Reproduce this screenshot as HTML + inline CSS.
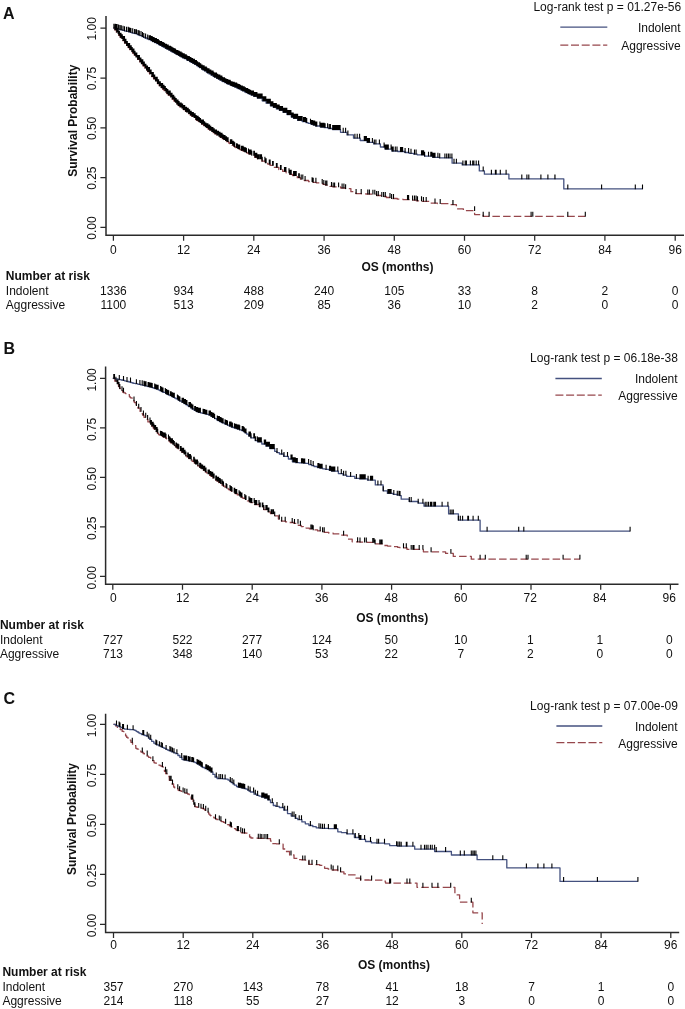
<!DOCTYPE html>
<html lang="en">
<head>
<meta charset="utf-8">
<title>Kaplan-Meier survival curves</title>
<style>
html,body{margin:0;padding:0;background:#fff;}
body{width:685px;height:1009px;overflow:hidden;}
svg{display:block;}
svg text{font-family:"Liberation Sans",sans-serif;font-size:12px;fill:#111;}
</style>
</head>
<body>
<svg width="685" height="1009" viewBox="0 0 685 1009">
<rect width="685" height="1009" fill="#fff"/>
<g>
<text x="3.0" y="18.9" font-weight="bold" style="font-size:16px">A</text>
<text x="681.2" y="11.3" text-anchor="end">Log-rank test p = 01.27e-56</text>
<line x1="560.3" y1="27.2" x2="607.3" y2="27.2" stroke="#44517f" stroke-width="1.3"/>
<line x1="560.3" y1="45.1" x2="607.3" y2="45.1" stroke="#96474c" stroke-width="1.3" stroke-dasharray="8 2.7"/>
<text x="680.6" y="32.3" text-anchor="end">Indolent</text>
<text x="680.6" y="49.6" text-anchor="end">Aggressive</text>
<path d="M106.0,16.0V235.3H684.0" fill="none" stroke="#2a2a2a" stroke-width="1.5"/>
<path d="M106.0,227.4h-5.6M106.0,177.6h-5.6M106.0,127.8h-5.6M106.0,78.0h-5.6M106.0,28.2h-5.6M113.4,235.3v5.4M183.6,235.3v5.4M253.8,235.3v5.4M324.1,235.3v5.4M394.3,235.3v5.4M464.5,235.3v5.4M534.7,235.3v5.4M604.9,235.3v5.4M675.2,235.3v5.4" fill="none" stroke="#2a2a2a" stroke-width="1.25"/>
<text transform="translate(96.0,228.0) rotate(-90)" text-anchor="middle">0.00</text>
<text transform="translate(96.0,178.2) rotate(-90)" text-anchor="middle">0.25</text>
<text transform="translate(96.0,128.4) rotate(-90)" text-anchor="middle">0.50</text>
<text transform="translate(96.0,78.6) rotate(-90)" text-anchor="middle">0.75</text>
<text transform="translate(96.0,28.8) rotate(-90)" text-anchor="middle">1.00</text>
<text x="113.4" y="253.6" text-anchor="middle">0</text>
<text x="183.6" y="253.6" text-anchor="middle">12</text>
<text x="253.8" y="253.6" text-anchor="middle">24</text>
<text x="324.1" y="253.6" text-anchor="middle">36</text>
<text x="394.3" y="253.6" text-anchor="middle">48</text>
<text x="464.5" y="253.6" text-anchor="middle">60</text>
<text x="534.7" y="253.6" text-anchor="middle">72</text>
<text x="604.9" y="253.6" text-anchor="middle">84</text>
<text x="675.2" y="253.6" text-anchor="middle">96</text>
<text transform="translate(76.9,120.7) rotate(-90)" text-anchor="middle" font-weight="bold">Survival Probability</text>
<text x="397.4" y="271.0" text-anchor="middle" font-weight="bold">OS (months)</text>
<text x="5.8" y="280.2" font-weight="bold">Number at risk</text>
<text x="5.8" y="295.0">Indolent</text>
<text x="5.8" y="308.8">Aggressive</text>
<text x="113.4" y="295.0" text-anchor="middle">1336</text>
<text x="113.4" y="308.8" text-anchor="middle">1100</text>
<text x="183.6" y="295.0" text-anchor="middle">934</text>
<text x="183.6" y="308.8" text-anchor="middle">513</text>
<text x="253.8" y="295.0" text-anchor="middle">488</text>
<text x="253.8" y="308.8" text-anchor="middle">209</text>
<text x="324.1" y="295.0" text-anchor="middle">240</text>
<text x="324.1" y="308.8" text-anchor="middle">85</text>
<text x="394.3" y="295.0" text-anchor="middle">105</text>
<text x="394.3" y="308.8" text-anchor="middle">36</text>
<text x="464.5" y="295.0" text-anchor="middle">33</text>
<text x="464.5" y="308.8" text-anchor="middle">10</text>
<text x="534.7" y="295.0" text-anchor="middle">8</text>
<text x="534.7" y="308.8" text-anchor="middle">2</text>
<text x="604.9" y="295.0" text-anchor="middle">2</text>
<text x="604.9" y="308.8" text-anchor="middle">0</text>
<text x="675.2" y="295.0" text-anchor="middle">0</text>
<text x="675.2" y="308.8" text-anchor="middle">0</text>
<path d="M113.4,28.2 L114.6,28.2 L114.6,29.8 L116.4,29.8 L116.4,32.2 L117.5,32.2 L117.5,33.7 L118.7,33.7 L118.7,35.3 L120.2,35.3 L120.2,37.3 L121.2,37.3 L121.2,38.7 L122.6,38.7 L122.6,40.6 L124.6,40.6 L124.6,43.2 L126.5,43.2 L126.5,45.5 L128.1,45.5 L128.1,47.5 L129.8,47.5 L129.8,49.7 L131.4,49.7 L131.4,51.6 L132.5,51.6 L132.5,53.1 L134.3,53.1 L134.3,55.2 L135.7,55.2 L135.7,57.0 L137.6,57.0 L137.6,59.4 L139.8,59.4 L139.8,61.9 L141.3,61.9 L141.3,63.8 L143.0,63.8 L143.0,65.9 L144.9,65.9 L144.9,68.2 L146.4,68.2 L146.4,70.0 L147.6,70.0 L147.6,71.6 L149.5,71.6 L149.5,73.9 L151.6,73.9 L151.6,76.5 L153.6,76.5 L153.6,78.9 L155.4,78.9 L155.4,81.2 L157.5,81.2 L157.5,83.7 L159.3,83.7 L159.3,85.8 L161.1,85.8 L161.1,87.6 L162.6,87.6 L162.6,89.2 L164.0,89.2 L164.0,90.6 L165.7,90.6 L165.7,92.4 L166.8,92.4 L166.8,93.5 L168.3,93.5 L168.3,95.1 L170.3,95.1 L170.3,97.2 L172.2,97.2 L172.2,99.2 L173.9,99.2 L173.9,101.1 L175.2,101.1 L175.2,102.4 L176.7,102.4 L176.7,104.0 L178.3,104.0 L178.3,105.5 L180.0,105.5 L180.0,106.9 L181.5,106.9 L181.5,108.1 L183.3,108.1 L183.3,109.6 L185.5,109.6 L185.5,111.3 L186.7,111.3 L186.7,112.2 L188.5,112.2 L188.5,113.7 L190.4,113.7 L190.4,115.2 L191.9,115.2 L191.9,116.4 L193.5,116.4 L193.5,117.7 L195.7,117.7 L195.7,119.5 L196.7,119.5 L196.7,120.3 L198.3,120.3 L198.3,121.6 L199.5,121.6 L199.5,122.6 L201.5,122.6 L201.5,124.1 L203.6,124.1 L203.6,125.7 L205.2,125.7 L205.2,126.9 L206.3,126.9 L206.3,127.7 L208.0,127.7 L208.0,129.0 L209.7,129.0 L209.7,130.2 L211.6,130.2 L211.6,131.6 L213.2,131.6 L213.2,132.7 L215.0,132.7 L215.0,133.9 L217.0,133.9 L217.0,135.2 L218.6,135.2 L218.6,136.3 L220.1,136.3 L220.1,137.3 L222.3,137.3 L222.3,138.7 L223.5,138.7 L223.5,139.5 L225.3,139.5 L225.3,140.7 L226.8,140.7 L226.8,141.7 L228.7,141.7 L228.7,143.0 L229.8,143.0 L229.8,143.7 L232.1,143.7 L232.1,145.2 L233.5,145.2 L233.5,146.1 L234.5,146.1 L234.5,146.8 L235.8,146.8 L235.8,147.7 L237.3,147.7 L237.3,148.4 L238.3,148.4 L238.3,148.9 L239.8,148.9 L239.8,149.6 L241.3,149.6 L241.3,150.3 L243.1,150.3 L243.1,151.2 L244.5,151.2 L244.5,151.8 L245.8,151.8 L245.8,152.5 L247.1,152.5 L247.1,153.1 L249.0,153.1 L249.0,154.1 L251.2,154.1 L251.2,155.3 L254.7,155.3 L254.7,157.3 L257.4,157.3 L257.4,158.8 L261.8,158.8 L261.8,161.2 L265.0,161.2 L265.0,162.8 L267.7,162.8 L267.7,164.1 L270.1,164.1 L270.1,165.4 L274.4,165.4 L274.4,167.4 L278.8,167.4 L278.8,169.6 L282.7,169.6 L282.7,171.4 L286.1,171.4 L286.1,172.8 L289.7,172.8 L289.7,174.3 L292.5,174.3 L292.5,175.5 L297.3,175.5 L297.3,177.7 L300.4,177.7 L300.4,179.1 L304.3,179.1 L304.3,180.5 L308.6,180.5 L308.6,181.7 L313.0,181.7 L313.0,182.3 L316.4,182.3 L316.4,182.9 L319.4,182.9 L319.4,183.4 L323.0,183.4 L323.0,184.4 L325.4,184.4 L325.4,185.1 L329.9,185.1 L329.9,186.4 L333.0,186.4 L333.0,186.9 L340.7,186.9 L340.7,188.0 L345.5,188.0 L345.5,188.7 L350.9,188.7 L350.9,191.7 L355.8,191.7 L355.8,193.6 L361.4,193.6 L361.4,193.8 L365.9,193.8 L365.9,194.0 L369.5,194.0 L369.5,194.2 L376.6,194.2 L376.6,195.5 L381.5,195.5 L381.5,196.5 L386.3,196.5 L386.3,197.5 L391.4,197.5 L391.4,198.5 L397.3,198.5 L397.3,199.2 L402.9,199.2 L402.9,199.6 L409.6,199.6 L409.6,200.1 L416.3,200.1 L416.3,200.8 L421.7,200.8 L421.7,201.4 L429.7,201.4 L429.7,203.1 L437.4,203.1 L437.4,203.5 L440.0,203.5 L440.0,203.6 L450.0,203.6 L450.0,204.6 L456.4,204.6 L456.4,208.8 L463.4,208.8 L463.4,210.7 L474.6,210.7 L474.6,214.6 L483.2,214.6 L483.2,216.3 L585.0,216.3" fill="none" stroke="#96474c" stroke-width="1.3" stroke-dasharray="7.5 3.2" stroke-linejoin="round"/>
<path d="M113.4,28.2 L115.4,28.2 L115.4,28.6 L117.5,28.6 L117.5,29.1 L119.5,29.1 L119.5,29.5 L120.6,29.5 L120.6,29.8 L122.7,29.8 L122.7,30.3 L124.4,30.3 L124.4,30.8 L125.4,30.8 L125.4,31.1 L126.4,31.1 L126.4,31.3 L128.6,31.3 L128.6,31.9 L130.4,31.9 L130.4,32.4 L131.6,32.4 L131.6,32.8 L132.7,32.8 L132.7,33.1 L133.9,33.1 L133.9,33.4 L135.1,33.4 L135.1,33.7 L137.1,33.7 L137.1,34.5 L138.5,34.5 L138.5,35.1 L139.7,35.1 L139.7,35.6 L141.8,35.6 L141.8,36.6 L143.7,36.6 L143.7,37.4 L144.9,37.4 L144.9,38.0 L147.0,38.0 L147.0,38.9 L148.8,38.9 L148.8,39.7 L150.7,39.7 L150.7,40.6 L152.5,40.6 L152.5,41.5 L154.6,41.5 L154.6,42.6 L156.6,42.6 L156.6,43.6 L158.6,43.6 L158.6,44.7 L159.9,44.7 L159.9,45.4 L161.7,45.4 L161.7,46.4 L163.3,46.4 L163.3,47.2 L165.2,47.2 L165.2,48.3 L166.8,48.3 L166.8,49.1 L168.9,49.1 L168.9,50.2 L170.5,50.2 L170.5,51.1 L171.8,51.1 L171.8,51.8 L173.1,51.8 L173.1,52.4 L174.2,52.4 L174.2,53.1 L175.8,53.1 L175.8,53.9 L176.9,53.9 L176.9,54.5 L178.4,54.5 L178.4,55.3 L179.6,55.3 L179.6,56.0 L181.1,56.0 L181.1,56.9 L182.7,56.9 L182.7,57.8 L184.4,57.8 L184.4,58.7 L186.5,58.7 L186.5,59.8 L187.4,59.8 L187.4,60.4 L189.5,60.4 L189.5,61.5 L191.0,61.5 L191.0,62.4 L192.7,62.4 L192.7,63.3 L194.5,63.3 L194.5,64.4 L196.5,64.4 L196.5,65.7 L198.0,65.7 L198.0,66.7 L199.5,66.7 L199.5,67.7 L201.7,67.7 L201.7,69.1 L202.7,69.1 L202.7,69.8 L204.5,69.8 L204.5,70.9 L206.3,70.9 L206.3,72.1 L207.3,72.1 L207.3,72.8 L209.0,72.8 L209.0,73.9 L210.9,73.9 L210.9,75.1 L213.0,75.1 L213.0,76.3 L214.4,76.3 L214.4,77.1 L216.6,77.1 L216.6,78.3 L218.2,78.3 L218.2,79.1 L219.8,79.1 L219.8,80.0 L221.9,80.0 L221.9,81.2 L222.9,81.2 L222.9,81.7 L224.8,81.7 L224.8,82.7 L226.5,82.7 L226.5,83.6 L227.9,83.6 L227.9,84.2 L230.0,84.2 L230.0,85.1 L231.4,85.1 L231.4,85.7 L233.0,85.7 L233.0,86.3 L234.6,86.3 L234.6,87.0 L236.6,87.0 L236.6,87.9 L237.8,87.9 L237.8,88.5 L239.3,88.5 L239.3,89.2 L240.8,89.2 L240.8,90.0 L242.5,90.0 L242.5,90.8 L244.5,90.8 L244.5,91.8 L245.8,91.8 L245.8,92.5 L247.9,92.5 L247.9,93.5 L249.3,93.5 L249.3,94.2 L251.0,94.2 L251.0,95.0 L253.8,95.0 L253.8,96.4 L257.3,96.4 L257.3,98.1 L262.2,98.1 L262.2,100.8 L266.1,100.8 L266.1,103.2 L270.4,103.2 L270.4,105.8 L273.4,105.8 L273.4,107.4 L276.4,107.4 L276.4,108.9 L279.4,108.9 L279.4,110.4 L283.1,110.4 L283.1,112.3 L287.0,112.3 L287.0,114.5 L291.3,114.5 L291.3,117.0 L293.5,117.0 L293.5,118.3 L297.6,118.3 L297.6,120.4 L302.2,120.4 L302.2,121.6 L305.8,121.6 L305.8,122.6 L308.1,122.6 L308.1,123.3 L311.0,123.3 L311.0,124.4 L313.1,124.4 L313.1,125.1 L315.7,125.1 L315.7,126.0 L320.4,126.0 L320.4,127.2 L324.2,127.2 L324.2,127.7 L328.2,127.7 L328.2,128.5 L332.5,128.5 L332.5,129.6 L340.5,129.6 L340.5,132.3 L347.0,132.3 L347.0,134.9 L353.5,134.9 L353.5,138.2 L360.2,138.2 L360.2,140.5 L367.1,140.5 L367.1,142.4 L373.6,142.4 L373.6,143.9 L380.4,143.9 L380.4,147.0 L385.1,147.0 L385.1,149.1 L391.9,149.1 L391.9,151.0 L397.7,151.0 L397.7,151.5 L404.9,151.5 L404.9,152.5 L409.0,152.5 L409.0,153.3 L413.5,153.3 L413.5,154.1 L417.2,154.1 L417.2,154.8 L424.6,154.8 L424.6,156.2 L432.6,156.2 L432.6,157.3 L439.3,157.3 L439.3,157.8 L440.2,157.8 L440.2,157.9 L452.1,157.9 L452.1,163.2 L462.2,163.2 L462.2,164.9 L479.3,164.9 L479.3,170.9 L484.4,170.9 L484.4,174.2 L508.9,174.2 L508.9,178.9 L563.8,178.9 L563.8,188.9 L642.5,188.9" fill="none" stroke="#44517f" stroke-width="1.3" stroke-linejoin="round"/>
<path d="M115.0,30.2v-4.9M115.6,30.2v-4.9M116.2,30.2v-4.9M116.7,32.6v-4.9M117.3,32.6v-4.9M118.2,34.1v-4.9M119.0,35.7v-4.9M119.4,35.7v-4.9M120.3,37.7v-4.9M121.0,37.7v-4.9M121.9,39.1v-4.9M122.3,39.1v-4.9M123.0,41.0v-4.9M123.5,41.0v-4.9M124.5,41.0v-4.9M124.7,43.6v-4.9M125.5,43.6v-4.9M125.9,43.6v-4.9M126.6,45.9v-4.9M127.3,45.9v-4.9M128.4,47.9v-4.9M128.8,47.9v-4.9M129.6,47.9v-4.9M130.0,50.1v-4.9M130.8,50.1v-4.9M131.2,50.1v-4.9M131.8,52.0v-4.9M132.2,52.0v-4.9M133.1,53.5v-4.9M133.9,53.5v-4.9M134.5,55.6v-4.9M135.0,55.6v-4.9M136.0,57.4v-4.9M136.8,57.4v-4.9M137.7,59.8v-4.9M138.3,59.8v-4.9M138.8,59.8v-4.9M139.4,59.8v-4.9M140.0,62.3v-4.9M140.6,62.3v-4.9M140.9,62.3v-4.9M141.4,64.2v-4.9M142.4,64.2v-4.9M142.8,64.2v-4.9M143.3,66.3v-4.9M143.8,66.3v-4.9M144.3,66.3v-4.9M145.3,68.6v-4.9M145.9,68.6v-4.9M146.6,70.4v-4.9M147.0,70.4v-4.9M147.5,70.4v-4.9M147.9,72.0v-4.9M148.5,72.0v-4.9M149.5,72.0v-4.9M150.0,74.3v-4.9M150.6,74.3v-4.9M151.1,74.3v-4.9M151.9,76.9v-4.9M152.2,76.9v-4.9M153.0,76.9v-4.9M153.3,76.9v-4.9M153.9,79.3v-4.9M154.7,79.3v-4.9M155.5,81.6v-4.9M155.6,81.6v-4.9M156.7,81.6v-4.9M157.2,81.6v-4.9M157.5,84.1v-4.9M158.6,84.1v-4.9M159.4,86.2v-4.9M159.7,86.2v-4.9M160.3,86.2v-4.9M161.2,88.0v-4.9M161.8,88.0v-4.9M162.6,88.0v-4.9M163.1,89.6v-4.9M164.0,89.6v-4.9M165.0,91.0v-4.9M165.3,91.0v-4.9M166.0,92.8v-4.9M166.6,92.8v-4.9M167.2,93.9v-4.9M167.8,93.9v-4.9M168.4,95.5v-4.9M168.7,95.5v-4.9M169.5,95.5v-4.9M170.2,95.5v-4.9M170.7,97.6v-4.9M171.4,97.6v-4.9M172.0,97.6v-4.9M172.4,99.6v-4.9M173.1,99.6v-4.9M173.7,99.6v-4.9M174.5,101.5v-4.9M174.9,101.5v-4.9M175.6,102.8v-4.9M176.2,102.8v-4.9M176.8,104.4v-4.9M177.5,104.4v-4.9M178.0,104.4v-4.9M178.3,105.9v-4.9M179.1,105.9v-4.9M180.1,107.3v-4.9M180.5,107.3v-4.9M181.2,107.3v-4.9M181.9,108.5v-4.9M182.6,108.5v-4.9M183.4,110.0v-4.9M183.8,110.0v-4.9M184.7,110.0v-4.9M185.5,111.7v-4.9M186.5,111.7v-4.9M186.8,112.6v-4.9M187.8,112.6v-4.9M188.2,112.6v-4.9M188.7,114.1v-4.9M189.2,114.1v-4.9M189.6,114.1v-4.9M190.4,115.6v-4.9M190.9,115.6v-4.9M191.2,115.6v-4.9M192.1,116.8v-4.9M192.5,116.8v-4.9M193.3,116.8v-4.9M194.1,118.1v-4.9M194.9,118.1v-4.9M195.1,118.1v-4.9M196.0,119.9v-4.9M196.2,119.9v-4.9M196.9,120.7v-4.9M197.4,120.7v-4.9M198.1,120.7v-4.9M198.9,122.0v-4.9M199.3,122.0v-4.9M200.1,123.0v-4.9M200.5,123.0v-4.9M201.6,124.5v-4.9M202.4,124.5v-4.9M202.5,124.5v-4.9M203.4,124.5v-4.9M204.1,126.1v-4.9M204.6,126.1v-4.9M205.4,127.3v-4.9M205.9,127.3v-4.9M206.7,128.1v-4.9M207.4,128.1v-4.9M207.9,128.1v-4.9M208.6,129.4v-4.9M208.8,129.4v-4.9M209.6,129.4v-4.9M210.0,130.6v-4.9M210.8,130.6v-4.9M211.8,132.0v-4.9M212.5,132.0v-4.9M212.9,132.0v-4.9M213.8,133.1v-4.9M214.2,133.1v-4.9M215.0,134.3v-4.9M215.7,134.3v-4.9M216.5,134.3v-4.9M217.1,135.6v-4.9M217.5,135.6v-4.9M218.2,135.6v-4.9M218.5,135.6v-4.9M219.0,136.7v-4.9M220.0,136.7v-4.9M220.5,137.7v-4.9M221.4,137.7v-4.9M222.0,137.7v-4.9M222.8,139.1v-4.9M223.1,139.1v-4.9M224.0,139.9v-4.9M224.6,139.9v-4.9M225.0,139.9v-4.9M225.6,141.1v-4.9M226.5,141.1v-4.9M227.2,142.1v-4.9M228.1,142.1v-4.9M230.4,144.1v-4.9M231.0,144.1v-4.9M231.8,144.1v-4.9M232.7,145.6v-4.9M233.2,145.6v-4.9M234.0,146.5v-4.9M234.7,147.2v-4.9M236.5,148.1v-4.9M237.1,148.1v-4.9M237.6,148.8v-4.9M238.4,149.3v-4.9M239.2,149.3v-4.9M239.7,149.3v-4.9M241.4,150.7v-4.9M241.9,150.7v-4.9M242.5,150.7v-4.9M243.1,150.7v-4.9M243.9,151.6v-4.9M244.7,152.2v-4.9M245.2,152.2v-4.9M245.7,152.2v-4.9M246.4,152.9v-4.9M248.5,153.5v-4.9M249.1,154.5v-4.9M249.9,154.5v-4.9M250.5,154.5v-4.9M251.1,154.5v-4.9M251.8,155.7v-4.9M253.8,155.7v-4.9M254.4,155.7v-4.9M255.1,157.7v-4.9M255.9,157.7v-4.9M256.8,157.7v-4.9M257.5,159.2v-4.9M258.0,159.2v-4.9M258.8,159.2v-4.9M260.0,159.2v-4.9M260.7,159.2v-4.9M261.5,159.2v-4.9M262.2,161.6v-4.9M264.9,161.6v-4.9M265.4,163.2v-4.9M266.1,163.2v-4.9M269.3,164.5v-4.9M270.1,164.5v-4.9M272.6,165.8v-4.9M273.2,165.8v-4.9M276.4,167.8v-4.9M277.1,167.8v-4.9M280.5,170.0v-4.9M281.1,170.0v-4.9M284.5,171.8v-4.9M285.0,171.8v-4.9M285.9,171.8v-4.9M289.0,173.2v-4.9M289.9,174.7v-4.9M290.4,174.7v-4.9M291.2,174.7v-4.9M293.6,175.9v-4.9M294.4,175.9v-4.9M295.0,175.9v-4.9M295.6,175.9v-4.9M296.2,175.9v-4.9M298.7,178.1v-4.9M299.3,178.1v-4.9M301.2,179.5v-4.9M302.8,179.5v-4.9M305.1,180.9v-4.9M312.1,182.1v-4.9M313.2,182.7v-4.9M315.9,182.7v-4.9M322.2,183.8v-4.9M323.8,184.8v-4.9M325.7,185.5v-4.9M326.9,185.5v-4.9M331.5,186.8v-4.9M333.2,187.3v-4.9M334.6,187.3v-4.9M338.6,187.3v-4.9M342.1,188.4v-4.9M343.9,188.4v-4.9M345.6,189.1v-4.9M356.1,194.0v-4.9M361.2,194.0v-4.9M367.8,194.4v-4.9M369.4,194.4v-4.9M372.9,194.6v-4.9M374.8,194.6v-4.9M376.6,195.9v-4.9M378.3,195.9v-4.9M381.8,196.9v-4.9M383.6,196.9v-4.9M385.3,196.9v-4.9M390.0,197.9v-4.9M391.6,198.9v-4.9M393.5,198.9v-4.9M407.5,200.0v-4.9M408.6,200.0v-4.9M412.6,200.5v-4.9M414.5,200.5v-4.9M416.1,200.5v-4.9M417.5,201.2v-4.9M421.5,201.2v-4.9M423.4,201.8v-4.9M426.2,201.8v-4.9M435.0,203.5v-4.9M440.2,204.0v-4.9M453.0,205.0v-4.9M452.9,205.0v-4.9M474.6,211.1v-4.9M483.2,216.7v-4.9M489.1,216.7v-4.9M531.1,216.7v-4.9M532.8,216.7v-4.9M567.8,216.7v-4.9M585.3,216.7v-4.9" fill="none" stroke="#000" stroke-width="1.1"/>
<path d="M113.9,28.6v-4.9M115.2,28.6v-4.9M116.1,29.0v-4.9M117.1,29.0v-4.9M118.6,29.5v-4.9M120.0,29.9v-4.9M121.3,30.2v-4.9M123.0,30.7v-4.9M124.5,31.2v-4.9M126.5,31.7v-4.9M128.2,31.7v-4.9M129.0,32.3v-4.9M129.8,32.3v-4.9M130.9,32.8v-4.9M132.7,33.2v-4.9M134.6,33.8v-4.9M135.9,34.1v-4.9M136.5,34.1v-4.9M138.1,34.9v-4.9M139.3,35.5v-4.9M141.0,36.0v-4.9M142.5,37.0v-4.9M143.8,37.8v-4.9M145.6,38.4v-4.9M147.7,39.3v-4.9M149.2,40.1v-4.9M149.8,40.1v-4.9M149.9,40.1v-4.9M150.5,40.1v-4.9M151.5,41.0v-4.9M152.2,41.0v-4.9M152.7,41.9v-4.9M153.3,41.9v-4.9M154.1,41.9v-4.9M154.8,43.0v-4.9M155.4,43.0v-4.9M156.4,43.0v-4.9M157.3,44.0v-4.9M157.7,44.0v-4.9M158.3,44.0v-4.9M159.0,45.1v-4.9M159.4,45.1v-4.9M160.3,45.8v-4.9M160.9,45.8v-4.9M161.6,45.8v-4.9M162.4,46.8v-4.9M163.3,46.8v-4.9M164.0,47.6v-4.9M164.6,47.6v-4.9M165.7,48.7v-4.9M165.9,48.7v-4.9M166.4,48.7v-4.9M167.2,49.5v-4.9M167.5,49.5v-4.9M168.2,49.5v-4.9M169.1,50.6v-4.9M169.7,50.6v-4.9M170.5,50.6v-4.9M171.0,51.5v-4.9M171.7,51.5v-4.9M172.4,52.2v-4.9M172.9,52.2v-4.9M173.6,52.8v-4.9M174.1,52.8v-4.9M174.6,53.5v-4.9M174.9,53.5v-4.9M175.4,53.5v-4.9M175.9,54.3v-4.9M177.0,54.9v-4.9M177.3,54.9v-4.9M177.9,54.9v-4.9M178.6,55.7v-4.9M179.3,55.7v-4.9M179.9,56.4v-4.9M180.4,56.4v-4.9M181.1,56.4v-4.9M181.3,57.3v-4.9M182.3,57.3v-4.9M182.8,58.2v-4.9M183.2,58.2v-4.9M184.2,58.2v-4.9M184.8,59.1v-4.9M185.3,59.1v-4.9M186.2,59.1v-4.9M187.0,60.2v-4.9M187.6,60.8v-4.9M188.5,60.8v-4.9M189.3,60.8v-4.9M189.9,61.9v-4.9M190.6,61.9v-4.9M190.9,61.9v-4.9M191.5,62.8v-4.9M192.5,62.8v-4.9M193.1,63.7v-4.9M194.0,63.7v-4.9M194.4,63.7v-4.9M194.9,64.8v-4.9M195.5,64.8v-4.9M196.4,64.8v-4.9M197.0,66.1v-4.9M197.6,66.1v-4.9M198.6,67.1v-4.9M199.4,67.1v-4.9M199.8,68.1v-4.9M200.7,68.1v-4.9M201.7,69.5v-4.9M202.1,69.5v-4.9M203.1,70.2v-4.9M203.4,70.2v-4.9M204.1,70.2v-4.9M204.7,71.3v-4.9M205.7,71.3v-4.9M206.3,71.3v-4.9M206.9,72.5v-4.9M207.5,73.2v-4.9M208.1,73.2v-4.9M209.0,73.2v-4.9M209.9,74.3v-4.9M210.3,74.3v-4.9M210.8,74.3v-4.9M211.5,75.5v-4.9M212.1,75.5v-4.9M213.0,75.5v-4.9M213.7,76.7v-4.9M214.5,77.5v-4.9M215.4,77.5v-4.9M216.1,77.5v-4.9M216.5,77.5v-4.9M216.8,78.7v-4.9M217.7,78.7v-4.9M218.5,79.5v-4.9M219.0,79.5v-4.9M219.8,79.5v-4.9M220.4,80.4v-4.9M221.1,80.4v-4.9M221.8,80.4v-4.9M222.4,81.6v-4.9M223.3,82.1v-4.9M223.8,82.1v-4.9M224.5,82.1v-4.9M225.2,83.1v-4.9M225.9,83.1v-4.9M226.8,84.0v-4.9M227.8,84.0v-4.9M228.2,84.6v-4.9M229.1,84.6v-4.9M229.4,84.6v-4.9M230.0,84.6v-4.9M230.5,85.5v-4.9M231.4,86.1v-4.9M232.1,86.1v-4.9M233.0,86.7v-4.9M233.6,86.7v-4.9M234.2,86.7v-4.9M235.2,87.4v-4.9M236.0,87.4v-4.9M236.6,87.4v-4.9M237.3,88.3v-4.9M237.8,88.3v-4.9M238.5,88.9v-4.9M238.8,88.9v-4.9M239.3,88.9v-4.9M240.0,89.6v-4.9M240.5,89.6v-4.9M241.6,90.4v-4.9M242.3,90.4v-4.9M242.8,91.2v-4.9M243.7,91.2v-4.9M244.2,91.2v-4.9M245.2,92.2v-4.9M245.5,92.2v-4.9M246.5,92.9v-4.9M247.1,92.9v-4.9M247.7,92.9v-4.9M248.1,93.9v-4.9M249.2,93.9v-4.9M249.8,94.6v-4.9M250.6,94.6v-4.9M251.6,95.4v-4.9M252.2,95.4v-4.9M253.0,95.4v-4.9M253.5,95.4v-4.9M253.9,96.8v-4.9M254.4,96.8v-4.9M254.9,96.8v-4.9M255.6,96.8v-4.9M256.1,96.8v-4.9M256.5,96.8v-4.9M256.9,96.8v-4.9M257.5,98.5v-4.9M258.0,98.5v-4.9M258.8,98.5v-4.9M259.2,98.5v-4.9M259.7,98.5v-4.9M260.5,98.5v-4.9M261.3,98.5v-4.9M262.1,98.5v-4.9M263.0,101.2v-4.9M263.6,101.2v-4.9M264.1,101.2v-4.9M264.6,101.2v-4.9M265.4,101.2v-4.9M265.8,101.2v-4.9M266.9,103.6v-4.9M267.4,103.6v-4.9M268.0,103.6v-4.9M268.5,103.6v-4.9M269.2,103.6v-4.9M270.3,103.6v-4.9M270.8,106.2v-4.9M271.7,106.2v-4.9M272.2,106.2v-4.9M272.9,106.2v-4.9M273.5,107.8v-4.9M274.0,107.8v-4.9M274.6,107.8v-4.9M275.2,107.8v-4.9M275.7,107.8v-4.9M276.3,107.8v-4.9M277.0,109.3v-4.9M277.7,109.3v-4.9M278.5,109.3v-4.9M279.2,109.3v-4.9M279.6,110.8v-4.9M280.1,110.8v-4.9M281.2,110.8v-4.9M281.9,110.8v-4.9M282.5,110.8v-4.9M283.3,112.7v-4.9M284.2,112.7v-4.9M284.9,112.7v-4.9M285.8,112.7v-4.9M286.4,112.7v-4.9M286.8,112.7v-4.9M287.4,114.9v-4.9M288.3,114.9v-4.9M289.1,114.9v-4.9M289.8,114.9v-4.9M290.3,114.9v-4.9M290.9,114.9v-4.9M291.7,117.4v-4.9M292.1,117.4v-4.9M292.4,117.4v-4.9M293.2,117.4v-4.9M293.7,118.7v-4.9M294.5,118.7v-4.9M295.1,118.7v-4.9M295.9,118.7v-4.9M296.6,118.7v-4.9M296.8,118.7v-4.9M297.6,118.7v-4.9M298.0,120.8v-4.9M298.3,120.8v-4.9M299.0,120.8v-4.9M299.8,120.8v-4.9M300.0,120.8v-4.9M301.1,120.8v-4.9M302.1,120.8v-4.9M303.5,122.0v-4.9M304.6,122.0v-4.9M305.6,122.0v-4.9M306.7,123.0v-4.9M310.5,123.7v-4.9M311.6,124.8v-4.9M312.6,124.8v-4.9M313.7,125.5v-4.9M314.7,125.5v-4.9M315.8,126.4v-4.9M316.8,126.4v-4.9M319.9,126.4v-4.9M320.9,127.6v-4.9M322.0,127.6v-4.9M323.0,127.6v-4.9M324.1,127.6v-4.9M325.1,128.1v-4.9M327.6,128.1v-4.9M329.2,128.9v-4.9M330.4,128.9v-4.9M332.7,130.0v-4.9M333.8,130.0v-4.9M334.8,130.0v-4.9M335.9,130.0v-4.9M336.9,130.0v-4.9M338.0,130.0v-4.9M339.0,130.0v-4.9M340.1,130.0v-4.9M343.2,132.7v-4.9M345.6,132.7v-4.9M347.9,135.3v-4.9M354.9,138.6v-4.9M357.2,138.6v-4.9M359.6,138.6v-4.9M364.3,140.9v-4.9M365.3,140.9v-4.9M366.4,140.9v-4.9M367.4,142.8v-4.9M368.5,142.8v-4.9M369.5,142.8v-4.9M372.4,142.8v-4.9M374.3,144.3v-4.9M375.9,144.3v-4.9M379.4,144.3v-4.9M384.1,147.4v-4.9M385.2,149.5v-4.9M386.2,149.5v-4.9M387.3,149.5v-4.9M388.3,149.5v-4.9M391.1,149.5v-4.9M392.2,151.4v-4.9M393.2,151.4v-4.9M395.3,151.4v-4.9M397.0,151.4v-4.9M400.5,151.9v-4.9M401.5,151.9v-4.9M402.6,151.9v-4.9M405.1,152.9v-4.9M408.6,152.9v-4.9M411.0,153.7v-4.9M414.5,154.5v-4.9M416.1,154.5v-4.9M421.5,155.2v-4.9M422.5,155.2v-4.9M423.6,155.2v-4.9M424.6,156.6v-4.9M428.5,156.6v-4.9M430.8,156.6v-4.9M431.9,156.6v-4.9M432.9,157.7v-4.9M434.0,157.7v-4.9M435.0,157.7v-4.9M437.9,157.7v-4.9M439.7,158.2v-4.9M444.9,158.3v-4.9M446.7,158.3v-4.9M448.4,158.3v-4.9M450.0,158.3v-4.9M451.9,158.3v-4.9M454.0,163.6v-4.9M456.4,163.6v-4.9M462.9,165.3v-4.9M465.2,165.3v-4.9M466.4,165.3v-4.9M470.4,165.3v-4.9M472.7,165.3v-4.9M473.9,165.3v-4.9M476.2,165.3v-4.9M478.6,165.3v-4.9M483.2,171.3v-4.9M491.4,174.6v-4.9M495.4,174.6v-4.9M496.1,174.6v-4.9M500.3,174.6v-4.9M506.1,174.6v-4.9M521.8,179.3v-4.9M526.9,179.3v-4.9M528.8,179.3v-4.9M540.9,179.3v-4.9M547.9,179.3v-4.9M555.0,179.3v-4.9M540.9,179.3v-4.9M547.9,179.3v-4.9M554.9,179.3v-4.9M567.8,189.3v-4.9M601.6,189.3v-4.9M635.3,189.3v-4.9M642.5,189.3v-4.9" fill="none" stroke="#000" stroke-width="1.1"/>
</g>
<g>
<text x="3.6" y="353.6" font-weight="bold" style="font-size:16px">B</text>
<text x="677.9" y="361.8" text-anchor="end">Log-rank test p = 06.18e-38</text>
<line x1="555.4" y1="378.5" x2="601.8" y2="378.5" stroke="#44517f" stroke-width="1.3"/>
<line x1="555.4" y1="395.1" x2="601.8" y2="395.1" stroke="#96474c" stroke-width="1.3" stroke-dasharray="8 2.7"/>
<text x="677.6" y="382.7" text-anchor="end">Indolent</text>
<text x="677.6" y="399.6" text-anchor="end">Aggressive</text>
<path d="M105.6,366.5V584.3H678.5" fill="none" stroke="#2a2a2a" stroke-width="1.5"/>
<path d="M105.6,576.3h-5.6M105.6,526.8h-5.6M105.6,477.3h-5.6M105.6,427.9h-5.6M105.6,378.4h-5.6M112.8,584.3v5.4M182.5,584.3v5.4M252.2,584.3v5.4M321.9,584.3v5.4M391.6,584.3v5.4M461.3,584.3v5.4M531.0,584.3v5.4M600.7,584.3v5.4M670.4,584.3v5.4" fill="none" stroke="#2a2a2a" stroke-width="1.25"/>
<text transform="translate(95.5,577.8) rotate(-90)" text-anchor="middle">0.00</text>
<text transform="translate(95.5,528.3) rotate(-90)" text-anchor="middle">0.25</text>
<text transform="translate(95.5,478.8) rotate(-90)" text-anchor="middle">0.50</text>
<text transform="translate(95.5,429.4) rotate(-90)" text-anchor="middle">0.75</text>
<text transform="translate(95.5,379.9) rotate(-90)" text-anchor="middle">1.00</text>
<text x="113.3" y="601.9" text-anchor="middle">0</text>
<text x="182.8" y="601.9" text-anchor="middle">12</text>
<text x="252.3" y="601.9" text-anchor="middle">24</text>
<text x="321.8" y="601.9" text-anchor="middle">36</text>
<text x="391.3" y="601.9" text-anchor="middle">48</text>
<text x="460.8" y="601.9" text-anchor="middle">60</text>
<text x="530.3" y="601.9" text-anchor="middle">72</text>
<text x="599.8" y="601.9" text-anchor="middle">84</text>
<text x="669.3" y="601.9" text-anchor="middle">96</text>
<text x="392.2" y="622.0" text-anchor="middle" font-weight="bold">OS (months)</text>
<text x="-0.1" y="629.1" font-weight="bold">Number at risk</text>
<text x="-0.1" y="643.6">Indolent</text>
<text x="-0.1" y="658.4">Aggressive</text>
<text x="113.0" y="643.6" text-anchor="middle">727</text>
<text x="113.0" y="658.4" text-anchor="middle">713</text>
<text x="182.5" y="643.6" text-anchor="middle">522</text>
<text x="182.5" y="658.4" text-anchor="middle">348</text>
<text x="252.1" y="643.6" text-anchor="middle">277</text>
<text x="252.1" y="658.4" text-anchor="middle">140</text>
<text x="321.7" y="643.6" text-anchor="middle">124</text>
<text x="321.7" y="658.4" text-anchor="middle">53</text>
<text x="391.2" y="643.6" text-anchor="middle">50</text>
<text x="391.2" y="658.4" text-anchor="middle">22</text>
<text x="460.8" y="643.6" text-anchor="middle">10</text>
<text x="460.8" y="658.4" text-anchor="middle">7</text>
<text x="530.3" y="643.6" text-anchor="middle">1</text>
<text x="530.3" y="658.4" text-anchor="middle">2</text>
<text x="599.9" y="643.6" text-anchor="middle">1</text>
<text x="599.9" y="658.4" text-anchor="middle">0</text>
<text x="669.4" y="643.6" text-anchor="middle">0</text>
<text x="669.4" y="658.4" text-anchor="middle">0</text>
<path d="M112.8,378.4 L114.8,378.4 L114.8,381.2 L116.8,381.2 L116.8,383.9 L118.5,383.9 L118.5,386.5 L119.7,386.5 L119.7,388.5 L121.1,388.5 L121.1,390.7 L122.6,390.7 L122.6,392.2 L124.0,392.2 L124.0,392.9 L125.5,392.9 L125.5,393.6 L127.3,393.6 L127.3,394.7 L129.4,394.7 L129.4,396.8 L130.4,396.8 L130.4,397.8 L132.1,397.8 L132.1,399.4 L133.1,399.4 L133.1,400.9 L134.3,400.9 L134.3,402.6 L136.2,402.6 L136.2,405.6 L137.9,405.6 L137.9,408.2 L140.1,408.2 L140.1,411.4 L141.6,411.4 L141.6,413.7 L142.6,413.7 L142.6,415.1 L144.0,415.1 L144.0,417.3 L145.8,417.3 L145.8,419.4 L147.9,419.4 L147.9,421.9 L150.1,421.9 L150.1,424.4 L151.7,424.4 L151.7,426.2 L153.2,426.2 L153.2,428.0 L154.3,428.0 L154.3,429.4 L156.1,429.4 L156.1,431.6 L157.3,431.6 L157.3,433.2 L158.5,433.2 L158.5,434.6 L159.4,434.6 L159.4,435.2 L160.4,435.2 L160.4,435.6 L162.2,435.6 L162.2,436.5 L163.4,436.5 L163.4,437.1 L165.6,437.1 L165.6,438.2 L166.6,438.2 L166.6,439.0 L168.7,439.0 L168.7,440.8 L169.8,440.8 L169.8,441.9 L170.8,441.9 L170.8,442.8 L172.7,442.8 L172.7,444.4 L174.0,444.4 L174.0,445.5 L175.9,445.5 L175.9,447.0 L177.1,447.0 L177.1,448.0 L178.1,448.0 L178.1,448.8 L180.0,448.8 L180.0,450.6 L181.9,450.6 L181.9,452.3 L184.0,452.3 L184.0,454.2 L185.9,454.2 L185.9,455.9 L186.9,455.9 L186.9,456.9 L188.7,456.9 L188.7,458.5 L190.6,458.5 L190.6,460.0 L192.1,460.0 L192.1,461.3 L194.3,461.3 L194.3,463.0 L195.5,463.0 L195.5,464.0 L197.7,464.0 L197.7,465.8 L199.6,465.8 L199.6,467.3 L200.6,467.3 L200.6,468.1 L201.6,468.1 L201.6,468.9 L203.4,468.9 L203.4,470.3 L205.4,470.3 L205.4,471.9 L206.4,471.9 L206.4,472.8 L207.8,472.8 L207.8,473.9 L209.7,473.9 L209.7,475.4 L210.9,475.4 L210.9,476.3 L212.9,476.3 L212.9,478.0 L214.5,478.0 L214.5,479.2 L215.5,479.2 L215.5,480.1 L217.0,480.1 L217.0,481.2 L218.7,481.2 L218.7,482.5 L220.2,482.5 L220.2,483.7 L222.0,483.7 L222.0,485.2 L223.2,485.2 L223.2,486.1 L225.1,486.1 L225.1,487.5 L226.6,487.5 L226.6,488.4 L228.3,488.4 L228.3,489.5 L230.1,489.5 L230.1,490.5 L231.6,490.5 L231.6,491.4 L233.1,491.4 L233.1,492.3 L235.0,492.3 L235.0,493.5 L237.2,493.5 L237.2,494.8 L239.2,494.8 L239.2,496.0 L240.8,496.0 L240.8,497.0 L242.2,497.0 L242.2,497.8 L243.2,497.8 L243.2,498.4 L245.4,498.4 L245.4,499.7 L247.3,499.7 L247.3,500.8 L249.3,500.8 L249.3,501.9 L250.7,501.9 L250.7,502.6 L254.5,502.6 L254.5,504.5 L259.3,504.5 L259.3,506.9 L263.7,506.9 L263.7,509.6 L267.5,509.6 L267.5,511.9 L270.5,511.9 L270.5,513.7 L273.8,513.7 L273.8,515.9 L278.4,515.9 L278.4,519.0 L281.5,519.0 L281.5,521.2 L285.6,521.2 L285.6,521.9 L289.3,521.9 L289.3,522.5 L293.9,522.5 L293.9,523.4 L298.3,523.4 L298.3,525.3 L301.2,525.3 L301.2,526.6 L303.3,526.6 L303.3,527.4 L306.1,527.4 L306.1,528.1 L309.4,528.1 L309.4,528.9 L313.2,528.9 L313.2,529.8 L317.6,529.8 L317.6,530.9 L322.1,530.9 L322.1,531.8 L324.4,531.8 L324.4,532.3 L328.8,532.3 L328.8,533.2 L333.2,533.2 L333.2,533.9 L340.9,533.9 L340.9,535.2 L347.3,535.2 L347.3,539.1 L352.2,539.1 L352.2,541.8 L359.9,541.8 L359.9,542.1 L367.3,542.1 L367.3,542.4 L374.2,542.4 L374.2,543.9 L382.2,543.9 L382.2,545.5 L387.5,545.5 L387.5,546.1 L391.5,546.1 L391.5,546.6 L397.7,546.6 L397.7,547.4 L400.0,547.4 L400.0,547.8 L407.0,547.8 L407.0,549.4 L423.4,549.4 L423.4,551.8 L445.6,551.8 L445.6,553.4 L453.3,553.4 L453.3,556.4 L471.3,556.4 L471.3,559.2 L579.9,559.2" fill="none" stroke="#96474c" stroke-width="1.3" stroke-dasharray="7.5 3.2" stroke-linejoin="round"/>
<path d="M112.8,378.4 L114.0,378.4 L114.0,378.6 L115.9,378.6 L115.9,379.0 L118.1,379.0 L118.1,379.4 L119.3,379.4 L119.3,379.7 L121.1,379.7 L121.1,380.0 L122.9,380.0 L122.9,380.4 L124.5,380.4 L124.5,380.8 L125.7,380.8 L125.7,381.1 L127.0,381.1 L127.0,381.5 L128.9,381.5 L128.9,382.0 L130.9,382.0 L130.9,382.6 L132.4,382.6 L132.4,383.0 L133.5,383.0 L133.5,383.3 L135.5,383.3 L135.5,383.7 L137.4,383.7 L137.4,384.1 L138.7,384.1 L138.7,384.4 L140.4,384.4 L140.4,384.8 L142.5,384.8 L142.5,385.3 L144.6,385.3 L144.6,385.8 L146.2,385.8 L146.2,386.1 L147.8,386.1 L147.8,386.5 L149.5,386.5 L149.5,386.9 L150.7,386.9 L150.7,387.2 L151.9,387.2 L151.9,387.6 L153.1,387.6 L153.1,388.0 L155.0,388.0 L155.0,388.7 L156.4,388.7 L156.4,389.2 L158.1,389.2 L158.1,389.8 L159.5,389.8 L159.5,390.5 L161.2,390.5 L161.2,391.3 L162.3,391.3 L162.3,391.9 L163.3,391.9 L163.3,392.4 L165.6,392.4 L165.6,393.5 L167.0,393.5 L167.0,394.3 L168.1,394.3 L168.1,394.8 L169.9,394.8 L169.9,395.7 L171.8,395.7 L171.8,396.7 L173.0,396.7 L173.0,397.3 L174.7,397.3 L174.7,398.2 L176.1,398.2 L176.1,398.9 L177.8,398.9 L177.8,399.8 L178.7,399.8 L178.7,400.4 L179.7,400.4 L179.7,401.0 L182.0,401.0 L182.0,402.3 L184.0,402.3 L184.0,403.6 L185.6,403.6 L185.6,404.6 L187.3,404.6 L187.3,405.7 L188.6,405.7 L188.6,406.6 L190.6,406.6 L190.6,407.9 L192.1,407.9 L192.1,409.0 L194.2,409.0 L194.2,410.4 L196.2,410.4 L196.2,411.5 L198.2,411.5 L198.2,412.3 L200.4,412.3 L200.4,412.8 L201.7,412.8 L201.7,413.1 L202.7,413.1 L202.7,413.3 L203.9,413.3 L203.9,413.6 L205.1,413.6 L205.1,413.9 L206.2,413.9 L206.2,414.2 L207.2,414.2 L207.2,414.4 L208.9,414.4 L208.9,415.1 L210.9,415.1 L210.9,416.4 L212.5,416.4 L212.5,417.3 L214.6,417.3 L214.6,418.6 L216.8,418.6 L216.8,419.9 L217.8,419.9 L217.8,420.6 L219.5,420.6 L219.5,421.6 L221.0,421.6 L221.0,422.3 L222.1,422.3 L222.1,422.8 L224.3,422.8 L224.3,423.8 L225.6,423.8 L225.6,424.4 L227.3,424.4 L227.3,425.2 L229.1,425.2 L229.1,426.0 L231.2,426.0 L231.2,427.0 L233.1,427.0 L233.1,427.7 L234.5,427.7 L234.5,428.2 L236.1,428.2 L236.1,428.7 L237.2,428.7 L237.2,429.1 L239.4,429.1 L239.4,429.8 L241.6,429.8 L241.6,430.5 L242.9,430.5 L242.9,431.0 L243.9,431.0 L243.9,431.8 L245.2,431.8 L245.2,432.9 L246.6,432.9 L246.6,434.1 L248.7,434.1 L248.7,436.0 L250.8,436.0 L250.8,437.8 L255.3,437.8 L255.3,440.7 L257.5,440.7 L257.5,441.8 L261.8,441.8 L261.8,444.0 L265.9,444.0 L265.9,446.2 L269.8,446.2 L269.8,448.5 L274.7,448.5 L274.7,451.3 L276.9,451.3 L276.9,452.6 L279.4,452.6 L279.4,454.0 L283.6,454.0 L283.6,456.4 L288.4,456.4 L288.4,459.0 L292.4,459.0 L292.4,461.8 L295.3,461.8 L295.3,462.6 L299.1,462.6 L299.1,462.8 L303.3,462.8 L303.3,463.1 L305.7,463.1 L305.7,463.4 L308.7,463.4 L308.7,464.6 L311.5,464.6 L311.5,465.6 L314.0,465.6 L314.0,466.5 L317.4,466.5 L317.4,467.6 L320.0,467.6 L320.0,468.2 L322.7,468.2 L322.7,468.8 L325.2,468.8 L325.2,469.3 L329.2,469.3 L329.2,470.3 L331.4,470.3 L331.4,471.1 L338.4,471.1 L338.4,473.6 L343.0,473.6 L343.0,475.2 L346.7,475.2 L346.7,476.4 L354.8,476.4 L354.8,478.4 L359.4,478.4 L359.4,478.8 L367.5,478.8 L367.5,480.2 L375.3,480.2 L375.3,484.9 L383.1,484.9 L383.1,490.8 L387.4,490.8 L387.4,493.4 L393.2,493.4 L393.2,494.4 L397.2,494.4 L397.2,495.2 L399.7,495.2 L399.7,495.6 L401.2,495.6 L401.2,499.2 L409.3,499.2 L409.3,501.5 L418.2,501.5 L418.2,503.2 L424.0,503.2 L424.0,506.2 L448.6,506.2 L448.6,513.9 L458.4,513.9 L458.4,520.2 L480.1,520.2 L480.1,531.2 L630.1,531.2" fill="none" stroke="#44517f" stroke-width="1.3" stroke-linejoin="round"/>
<path d="M113.9,378.8v-4.9M114.5,378.8v-4.9M115.9,381.6v-4.9M117.2,384.3v-4.9M117.9,384.3v-4.9M119.0,386.9v-4.9M119.8,388.9v-4.9M122.0,391.1v-4.9M123.5,392.6v-4.9M134.0,401.3v-4.9M136.4,406.0v-4.9M138.7,408.6v-4.9M141.0,411.8v-4.9M143.4,415.5v-4.9M145.7,417.7v-4.9M147.6,419.8v-4.9M150.0,422.3v-4.9M150.6,424.8v-4.9M151.4,424.8v-4.9M151.9,426.6v-4.9M152.5,426.6v-4.9M153.1,426.6v-4.9M153.9,428.4v-4.9M154.8,429.8v-4.9M155.6,429.8v-4.9M156.2,432.0v-4.9M157.1,432.0v-4.9M157.7,433.6v-4.9M160.4,435.6v-4.9M161.2,436.0v-4.9M161.9,436.0v-4.9M162.8,436.9v-4.9M163.5,437.5v-4.9M164.4,437.5v-4.9M165.2,437.5v-4.9M166.0,438.6v-4.9M168.5,439.4v-4.9M169.1,441.2v-4.9M169.7,441.2v-4.9M170.4,442.3v-4.9M171.0,443.2v-4.9M171.8,443.2v-4.9M172.4,443.2v-4.9M172.9,444.8v-4.9M173.4,444.8v-4.9M174.3,445.9v-4.9M175.9,447.4v-4.9M176.4,447.4v-4.9M177.2,448.4v-4.9M178.0,448.4v-4.9M178.8,449.2v-4.9M180.5,451.0v-4.9M181.1,451.0v-4.9M181.9,452.7v-4.9M182.8,452.7v-4.9M183.6,452.7v-4.9M184.2,454.6v-4.9M185.0,454.6v-4.9M185.9,456.3v-4.9M187.7,457.3v-4.9M188.3,457.3v-4.9M188.8,458.9v-4.9M189.6,458.9v-4.9M190.4,458.9v-4.9M191.2,460.4v-4.9M193.7,461.7v-4.9M194.2,461.7v-4.9M194.8,463.4v-4.9M195.6,464.4v-4.9M196.2,464.4v-4.9M196.8,464.4v-4.9M197.5,464.4v-4.9M198.0,466.2v-4.9M199.7,467.7v-4.9M200.4,467.7v-4.9M201.0,468.5v-4.9M201.9,469.3v-4.9M202.6,469.3v-4.9M203.5,470.7v-4.9M204.2,470.7v-4.9M204.7,470.7v-4.9M205.4,472.3v-4.9M206.0,472.3v-4.9M208.1,474.3v-4.9M208.9,474.3v-4.9M209.4,474.3v-4.9M210.3,475.8v-4.9M210.8,475.8v-4.9M211.7,476.7v-4.9M212.2,476.7v-4.9M212.7,476.7v-4.9M213.3,478.4v-4.9M214.1,478.4v-4.9M215.8,480.5v-4.9M216.5,480.5v-4.9M217.3,481.6v-4.9M217.9,481.6v-4.9M218.6,481.6v-4.9M219.2,482.9v-4.9M220.1,482.9v-4.9M220.7,484.1v-4.9M222.0,484.1v-4.9M222.8,485.6v-4.9M223.5,486.5v-4.9M226.1,487.9v-4.9M226.9,488.8v-4.9M230.0,489.9v-4.9M230.7,490.9v-4.9M231.3,490.9v-4.9M232.0,491.8v-4.9M234.2,492.7v-4.9M234.7,492.7v-4.9M235.2,493.9v-4.9M235.8,493.9v-4.9M236.7,493.9v-4.9M239.1,495.2v-4.9M239.7,496.4v-4.9M240.4,496.4v-4.9M241.1,497.4v-4.9M241.9,497.4v-4.9M244.8,498.8v-4.9M245.5,500.1v-4.9M246.0,500.1v-4.9M249.0,501.2v-4.9M249.5,502.3v-4.9M250.2,502.3v-4.9M251.0,503.0v-4.9M251.8,503.0v-4.9M254.2,503.0v-4.9M254.8,504.9v-4.9M255.3,504.9v-4.9M255.9,504.9v-4.9M256.7,504.9v-4.9M259.0,504.9v-4.9M259.6,507.3v-4.9M260.2,507.3v-4.9M262.3,507.3v-4.9M262.9,507.3v-4.9M263.8,510.0v-4.9M265.9,510.0v-4.9M266.5,510.0v-4.9M267.1,510.0v-4.9M268.0,512.3v-4.9M268.9,512.3v-4.9M271.2,514.1v-4.9M272.3,514.1v-4.9M273.5,514.1v-4.9M274.7,516.3v-4.9M279.3,519.4v-4.9M281.7,521.6v-4.9M285.2,521.6v-4.9M292.2,522.9v-4.9M294.5,523.8v-4.9M298.0,523.8v-4.9M300.4,525.7v-4.9M310.9,529.3v-4.9M312.1,529.3v-4.9M313.2,530.2v-4.9M320.2,531.3v-4.9M322.6,532.2v-4.9M324.2,532.2v-4.9M343.6,535.6v-4.9M357.6,542.2v-4.9M360.0,542.5v-4.9M364.6,542.5v-4.9M366.3,542.5v-4.9M372.8,542.8v-4.9M374.0,542.8v-4.9M375.1,544.3v-4.9M379.8,544.3v-4.9M381.0,544.3v-4.9M382.1,544.3v-4.9M403.5,548.2v-4.9M406.3,548.2v-4.9M411.2,549.8v-4.9M412.9,549.8v-4.9M414.0,549.8v-4.9M419.2,549.8v-4.9M422.9,549.8v-4.9M431.1,552.2v-4.9M450.9,553.8v-4.9M480.1,559.6v-4.9M485.3,559.6v-4.9M526.2,559.6v-4.9M528.0,559.6v-4.9M563.1,559.6v-4.9M579.9,559.6v-4.9" fill="none" stroke="#000" stroke-width="1.1"/>
<path d="M114.2,379.0v-4.9M119.3,379.8v-4.9M123.5,380.8v-4.9M127.0,381.9v-4.9M130.5,382.4v-4.9M136.4,384.1v-4.9M139.9,384.8v-4.9M142.2,385.2v-4.9M144.0,385.7v-4.9M144.7,386.2v-4.9M145.5,386.2v-4.9M146.0,386.2v-4.9M148.1,386.9v-4.9M148.8,386.9v-4.9M149.5,387.3v-4.9M150.2,387.3v-4.9M150.8,387.6v-4.9M151.6,387.6v-4.9M152.2,388.0v-4.9M154.7,388.4v-4.9M155.2,389.1v-4.9M156.0,389.1v-4.9M156.7,389.6v-4.9M157.2,389.6v-4.9M158.1,389.6v-4.9M160.6,390.9v-4.9M161.3,391.7v-4.9M161.8,391.7v-4.9M162.4,392.3v-4.9M163.0,392.3v-4.9M165.3,392.8v-4.9M165.8,393.9v-4.9M166.5,393.9v-4.9M167.1,394.7v-4.9M167.9,394.7v-4.9M168.7,395.2v-4.9M170.5,396.1v-4.9M171.1,396.1v-4.9M172.0,397.1v-4.9M172.6,397.1v-4.9M173.4,397.7v-4.9M174.3,397.7v-4.9M177.4,399.3v-4.9M178.3,400.2v-4.9M179.0,400.8v-4.9M179.9,401.4v-4.9M182.1,402.7v-4.9M182.9,402.7v-4.9M183.5,402.7v-4.9M184.1,404.0v-4.9M184.9,404.0v-4.9M185.5,404.0v-4.9M186.3,405.0v-4.9M186.9,405.0v-4.9M189.0,407.0v-4.9M189.9,407.0v-4.9M190.4,407.0v-4.9M191.0,408.3v-4.9M191.7,408.3v-4.9M192.4,409.4v-4.9M192.9,409.4v-4.9M194.7,410.8v-4.9M195.5,410.8v-4.9M196.3,411.9v-4.9M196.9,411.9v-4.9M197.7,411.9v-4.9M198.3,412.7v-4.9M199.0,412.7v-4.9M199.7,412.7v-4.9M200.4,412.7v-4.9M203.1,413.7v-4.9M204.0,414.0v-4.9M204.5,414.0v-4.9M205.4,414.3v-4.9M206.2,414.6v-4.9M206.8,414.6v-4.9M209.1,415.5v-4.9M209.8,415.5v-4.9M210.5,415.5v-4.9M211.3,416.8v-4.9M211.9,416.8v-4.9M212.5,417.7v-4.9M213.3,417.7v-4.9M213.8,417.7v-4.9M214.6,419.0v-4.9M217.3,420.3v-4.9M218.0,421.0v-4.9M218.8,421.0v-4.9M219.4,421.0v-4.9M219.9,422.0v-4.9M220.4,422.0v-4.9M220.9,422.0v-4.9M221.7,422.7v-4.9M222.4,423.2v-4.9M223.1,423.2v-4.9M225.1,424.2v-4.9M225.9,424.8v-4.9M226.4,424.8v-4.9M226.9,424.8v-4.9M227.5,425.6v-4.9M229.6,426.4v-4.9M230.4,426.4v-4.9M231.1,426.4v-4.9M231.7,427.4v-4.9M232.4,427.4v-4.9M234.4,428.1v-4.9M234.9,428.6v-4.9M235.5,428.6v-4.9M236.0,428.6v-4.9M236.8,429.1v-4.9M237.6,429.5v-4.9M238.5,429.5v-4.9M239.1,429.5v-4.9M239.7,430.2v-4.9M242.2,430.9v-4.9M242.9,430.9v-4.9M243.6,431.4v-4.9M244.3,432.2v-4.9M245.2,433.3v-4.9M246.0,433.3v-4.9M249.0,436.4v-4.9M249.8,436.4v-4.9M250.4,436.4v-4.9M251.0,438.2v-4.9M253.8,438.2v-4.9M254.5,438.2v-4.9M255.4,441.1v-4.9M257.2,441.1v-4.9M257.9,442.2v-4.9M258.7,442.2v-4.9M259.5,442.2v-4.9M260.1,442.2v-4.9M260.7,442.2v-4.9M261.3,442.2v-4.9M264.3,444.4v-4.9M265.1,444.4v-4.9M265.6,444.4v-4.9M266.4,446.6v-4.9M267.2,446.6v-4.9M267.9,446.6v-4.9M268.7,446.6v-4.9M269.4,446.6v-4.9M270.0,448.9v-4.9M271.1,448.9v-4.9M272.1,448.9v-4.9M273.2,448.9v-4.9M274.2,448.9v-4.9M277.0,453.0v-4.9M281.7,454.4v-4.9M284.0,456.8v-4.9M287.5,456.8v-4.9M291.0,459.4v-4.9M292.1,459.4v-4.9M293.1,462.2v-4.9M294.2,462.2v-4.9M295.2,462.2v-4.9M296.3,463.0v-4.9M297.3,463.0v-4.9M301.5,463.2v-4.9M302.6,463.2v-4.9M303.6,463.5v-4.9M304.7,463.5v-4.9M308.6,463.8v-4.9M310.9,465.0v-4.9M313.2,466.0v-4.9M317.9,468.0v-4.9M318.9,468.0v-4.9M320.0,468.6v-4.9M321.1,468.6v-4.9M322.1,468.6v-4.9M326.1,469.7v-4.9M329.6,470.7v-4.9M330.6,470.7v-4.9M331.7,471.5v-4.9M332.7,471.5v-4.9M333.8,471.5v-4.9M334.8,471.5v-4.9M337.8,471.5v-4.9M341.3,474.0v-4.9M343.6,475.6v-4.9M345.9,475.6v-4.9M350.6,476.8v-4.9M356.4,478.8v-4.9M360.0,479.2v-4.9M361.0,479.2v-4.9M362.1,479.2v-4.9M363.1,479.2v-4.9M364.2,479.2v-4.9M365.2,479.2v-4.9M368.1,480.6v-4.9M370.5,480.6v-4.9M371.5,480.6v-4.9M372.6,480.6v-4.9M377.9,485.3v-4.9M381.0,485.3v-4.9M383.3,491.2v-4.9M388.0,493.8v-4.9M389.0,493.8v-4.9M390.1,493.8v-4.9M391.1,493.8v-4.9M393.8,494.8v-4.9M397.3,495.6v-4.9M399.0,495.6v-4.9M400.0,496.0v-4.9M409.3,501.9v-4.9M411.2,501.9v-4.9M418.2,503.6v-4.9M422.9,503.6v-4.9M425.2,506.6v-4.9M426.9,506.6v-4.9M428.5,506.6v-4.9M430.4,506.6v-4.9M431.5,506.6v-4.9M433.2,506.6v-4.9M434.6,506.6v-4.9M435.5,506.6v-4.9M442.1,506.6v-4.9M447.9,506.6v-4.9M450.2,514.3v-4.9M451.9,514.3v-4.9M453.3,514.3v-4.9M458.4,520.6v-4.9M460.3,520.6v-4.9M462.6,520.6v-4.9M467.8,520.6v-4.9M468.5,520.6v-4.9M473.1,520.6v-4.9M478.3,520.6v-4.9M487.1,531.6v-4.9M518.7,531.6v-4.9M523.8,531.6v-4.9M630.1,531.6v-4.9" fill="none" stroke="#000" stroke-width="1.1"/>
</g>
<g>
<text x="3.6" y="703.7" font-weight="bold" style="font-size:16px">C</text>
<text x="677.9" y="710.3" text-anchor="end">Log-rank test p = 07.00e-09</text>
<line x1="556.4" y1="726.0" x2="602.3" y2="726.0" stroke="#44517f" stroke-width="1.3"/>
<line x1="556.4" y1="742.6" x2="602.3" y2="742.6" stroke="#96474c" stroke-width="1.3" stroke-dasharray="8 2.7"/>
<text x="677.6" y="730.9" text-anchor="end">Indolent</text>
<text x="677.6" y="747.7" text-anchor="end">Aggressive</text>
<path d="M105.6,713.7V932.5H679.2" fill="none" stroke="#2a2a2a" stroke-width="1.5"/>
<path d="M105.6,924.3h-5.6M105.6,874.3h-5.6M105.6,824.3h-5.6M105.6,774.3h-5.6M105.6,724.3h-5.6M113.5,932.5v5.4M183.2,932.5v5.4M252.8,932.5v5.4M322.5,932.5v5.4M392.1,932.5v5.4M461.8,932.5v5.4M531.5,932.5v5.4M601.1,932.5v5.4M670.8,932.5v5.4" fill="none" stroke="#2a2a2a" stroke-width="1.25"/>
<text transform="translate(95.5,925.5) rotate(-90)" text-anchor="middle">0.00</text>
<text transform="translate(95.5,875.5) rotate(-90)" text-anchor="middle">0.25</text>
<text transform="translate(95.5,825.5) rotate(-90)" text-anchor="middle">0.50</text>
<text transform="translate(95.5,775.5) rotate(-90)" text-anchor="middle">0.75</text>
<text transform="translate(95.5,725.5) rotate(-90)" text-anchor="middle">1.00</text>
<text x="113.5" y="948.5" text-anchor="middle">0</text>
<text x="183.2" y="948.5" text-anchor="middle">12</text>
<text x="252.8" y="948.5" text-anchor="middle">24</text>
<text x="322.5" y="948.5" text-anchor="middle">36</text>
<text x="392.1" y="948.5" text-anchor="middle">48</text>
<text x="461.8" y="948.5" text-anchor="middle">60</text>
<text x="531.5" y="948.5" text-anchor="middle">72</text>
<text x="601.1" y="948.5" text-anchor="middle">84</text>
<text x="670.8" y="948.5" text-anchor="middle">96</text>
<text transform="translate(76.4,819.0) rotate(-90)" text-anchor="middle" font-weight="bold">Survival Probability</text>
<text x="393.9" y="968.7" text-anchor="middle" font-weight="bold">OS (months)</text>
<text x="2.4" y="975.9" font-weight="bold">Number at risk</text>
<text x="2.4" y="990.7">Indolent</text>
<text x="2.4" y="1004.6">Aggressive</text>
<text x="113.5" y="990.7" text-anchor="middle">357</text>
<text x="113.5" y="1004.6" text-anchor="middle">214</text>
<text x="183.2" y="990.7" text-anchor="middle">270</text>
<text x="183.2" y="1004.6" text-anchor="middle">118</text>
<text x="252.8" y="990.7" text-anchor="middle">143</text>
<text x="252.8" y="1004.6" text-anchor="middle">55</text>
<text x="322.5" y="990.7" text-anchor="middle">78</text>
<text x="322.5" y="1004.6" text-anchor="middle">27</text>
<text x="392.1" y="990.7" text-anchor="middle">41</text>
<text x="392.1" y="1004.6" text-anchor="middle">12</text>
<text x="461.8" y="990.7" text-anchor="middle">18</text>
<text x="461.8" y="1004.6" text-anchor="middle">3</text>
<text x="531.5" y="990.7" text-anchor="middle">7</text>
<text x="531.5" y="1004.6" text-anchor="middle">0</text>
<text x="601.1" y="990.7" text-anchor="middle">1</text>
<text x="601.1" y="1004.6" text-anchor="middle">0</text>
<text x="670.8" y="990.7" text-anchor="middle">0</text>
<text x="670.8" y="1004.6" text-anchor="middle">0</text>
<path d="M113.5,724.3 L115.5,724.3 L115.5,725.9 L117.3,725.9 L117.3,727.3 L118.8,727.3 L118.8,728.5 L120.2,728.5 L120.2,729.6 L122.2,729.6 L122.2,731.4 L123.8,731.4 L123.8,733.5 L125.6,733.5 L125.6,735.9 L126.7,735.9 L126.7,737.4 L128.0,737.4 L128.0,738.9 L129.0,738.9 L129.0,740.1 L130.9,740.1 L130.9,742.3 L132.5,742.3 L132.5,744.2 L133.7,744.2 L133.7,745.6 L135.8,745.6 L135.8,748.3 L137.1,748.3 L137.1,749.2 L138.6,749.2 L138.6,750.3 L139.7,750.3 L139.7,751.2 L141.0,751.2 L141.0,752.1 L143.1,752.1 L143.1,753.5 L144.4,753.5 L144.4,754.4 L145.6,754.4 L145.6,755.1 L147.2,755.1 L147.2,756.2 L148.6,756.2 L148.6,757.3 L150.7,757.3 L150.7,759.5 L151.8,759.5 L151.8,760.7 L154.0,760.7 L154.0,762.7 L155.0,762.7 L155.0,763.2 L157.1,763.2 L157.1,764.2 L159.0,764.2 L159.0,765.2 L160.2,765.2 L160.2,765.8 L161.8,765.8 L161.8,766.6 L163.1,766.6 L163.1,768.8 L164.4,768.8 L164.4,771.3 L165.6,771.3 L165.6,773.7 L167.0,773.7 L167.0,776.5 L169.3,776.5 L169.3,780.3 L171.5,780.3 L171.5,784.0 L173.6,784.0 L173.6,787.0 L174.7,787.0 L174.7,787.8 L176.0,787.8 L176.0,788.8 L178.2,788.8 L178.2,790.3 L179.2,790.3 L179.2,790.7 L181.1,790.7 L181.1,791.4 L182.4,791.4 L182.4,792.0 L184.6,792.0 L184.6,792.8 L185.6,792.8 L185.6,793.2 L187.6,793.2 L187.6,794.0 L189.0,794.0 L189.0,794.5 L190.1,794.5 L190.1,796.6 L191.1,796.6 L191.1,799.1 L193.1,799.1 L193.1,804.3 L194.8,804.3 L194.8,806.7 L196.0,806.7 L196.0,807.0 L197.5,807.0 L197.5,807.4 L199.6,807.4 L199.6,807.9 L200.8,807.9 L200.8,808.2 L202.5,808.2 L202.5,808.6 L203.7,808.6 L203.7,809.1 L204.9,809.1 L204.9,810.3 L206.8,810.3 L206.8,812.2 L208.7,812.2 L208.7,814.1 L209.9,814.1 L209.9,815.3 L211.0,815.3 L211.0,816.1 L212.0,816.1 L212.0,816.8 L213.8,816.8 L213.8,817.8 L215.4,817.8 L215.4,818.8 L216.7,818.8 L216.7,819.5 L217.9,819.5 L217.9,820.0 L219.6,820.0 L219.6,820.8 L221.5,820.8 L221.5,821.6 L223.5,821.6 L223.5,822.4 L225.2,822.4 L225.2,823.3 L226.4,823.3 L226.4,824.0 L227.5,824.0 L227.5,824.7 L229.4,824.7 L229.4,825.9 L230.8,825.9 L230.8,826.8 L232.7,826.8 L232.7,827.9 L233.8,827.9 L233.8,828.6 L235.8,828.6 L235.8,829.8 L237.1,829.8 L237.1,830.6 L239.2,830.6 L239.2,831.8 L241.3,831.8 L241.3,832.8 L242.8,832.8 L242.8,832.9 L243.8,832.9 L243.8,833.0 L245.9,833.0 L245.9,833.2 L247.5,833.2 L247.5,833.3 L249.6,833.3 L249.6,837.0 L250.9,837.0 L250.9,838.0 L253.5,838.0 L253.5,838.1 L257.9,838.1 L257.9,838.3 L261.1,838.3 L261.1,838.4 L263.6,838.4 L263.6,838.5 L266.8,838.5 L266.8,838.6 L270.5,838.6 L270.5,841.1 L272.6,841.1 L272.6,843.6 L276.2,843.6 L276.2,843.8 L279.6,843.8 L279.6,844.2 L283.1,844.2 L283.1,849.0 L285.5,849.0 L285.5,851.5 L289.6,851.5 L289.6,855.0 L294.0,855.0 L294.0,858.3 L298.5,858.3 L298.5,859.7 L301.5,859.7 L301.5,859.9 L305.6,859.9 L305.6,861.2 L308.8,861.2 L308.8,864.3 L313.0,864.3 L313.0,864.5 L315.3,864.5 L315.3,864.6 L319.8,864.6 L319.8,865.4 L324.6,865.4 L324.6,868.3 L328.1,868.3 L328.1,869.1 L331.6,869.1 L331.6,870.0 L337.8,870.0 L337.8,871.8 L343.9,871.8 L343.9,873.8 L347.6,873.8 L347.6,874.9 L355.9,874.9 L355.9,878.1 L360.6,878.1 L360.6,880.0 L365.0,880.0 L365.0,880.0 L369.1,880.0 L369.1,880.1 L373.9,880.1 L373.9,880.1 L381.5,880.1 L381.5,880.2 L385.2,880.2 L385.2,882.0 L385.6,882.0 L385.6,883.1 L417.0,883.1 L417.0,887.3 L454.9,887.3 L454.9,894.8 L459.6,894.8 L459.6,902.2 L472.9,902.2 L472.9,912.8 L482.2,912.8 L482.2,924.0 L482.2,924.0" fill="none" stroke="#96474c" stroke-width="1.3" stroke-dasharray="7.5 3.2" stroke-linejoin="round"/>
<path d="M113.5,724.3 L115.4,724.3 L115.4,725.1 L116.6,725.1 L116.6,725.6 L117.5,725.6 L117.5,726.1 L119.3,726.1 L119.3,726.9 L121.0,726.9 L121.0,727.7 L122.6,727.7 L122.6,728.6 L124.5,728.6 L124.5,729.1 L125.6,729.1 L125.6,729.2 L127.6,729.2 L127.6,729.4 L129.5,729.4 L129.5,729.5 L130.5,729.5 L130.5,729.6 L131.6,729.6 L131.6,729.7 L133.2,729.7 L133.2,729.8 L134.8,729.8 L134.8,730.4 L136.1,730.4 L136.1,731.3 L137.3,731.3 L137.3,732.0 L138.7,732.0 L138.7,732.9 L139.9,732.9 L139.9,733.6 L141.6,733.6 L141.6,734.5 L143.7,734.5 L143.7,735.2 L144.8,735.2 L144.8,735.5 L146.5,735.5 L146.5,736.2 L148.4,736.2 L148.4,738.1 L149.6,738.1 L149.6,739.3 L151.6,739.3 L151.6,741.3 L153.8,741.3 L153.8,743.2 L155.2,743.2 L155.2,744.0 L156.7,744.0 L156.7,744.8 L158.8,744.8 L158.8,745.8 L160.4,745.8 L160.4,746.6 L161.9,746.6 L161.9,747.3 L164.0,747.3 L164.0,748.4 L166.0,748.4 L166.0,749.4 L167.4,749.4 L167.4,750.0 L168.6,750.0 L168.6,750.6 L170.0,750.6 L170.0,751.2 L171.5,751.2 L171.5,751.9 L173.8,751.9 L173.8,752.8 L175.7,752.8 L175.7,753.7 L177.9,753.7 L177.9,755.5 L179.9,755.5 L179.9,757.4 L181.9,757.4 L181.9,759.3 L183.0,759.3 L183.0,759.8 L184.6,759.8 L184.6,760.1 L186.8,760.1 L186.8,760.6 L188.9,760.6 L188.9,761.0 L190.2,761.0 L190.2,761.2 L191.7,761.2 L191.7,761.5 L193.5,761.5 L193.5,761.9 L194.9,761.9 L194.9,762.6 L196.5,762.6 L196.5,763.6 L197.6,763.6 L197.6,764.2 L199.1,764.2 L199.1,765.2 L200.7,765.2 L200.7,766.2 L201.7,766.2 L201.7,766.8 L202.8,766.8 L202.8,767.5 L205.0,767.5 L205.0,768.7 L207.0,768.7 L207.0,769.7 L209.1,769.7 L209.1,770.8 L210.9,770.8 L210.9,772.0 L212.9,772.0 L212.9,774.4 L215.0,774.4 L215.0,777.0 L217.1,777.0 L217.1,778.5 L218.1,778.5 L218.1,778.5 L219.9,778.5 L219.9,778.6 L221.2,778.6 L221.2,778.7 L223.0,778.7 L223.0,778.9 L224.3,778.9 L224.3,778.9 L226.0,778.9 L226.0,779.1 L228.1,779.1 L228.1,780.2 L229.9,780.2 L229.9,781.6 L231.1,781.6 L231.1,782.6 L232.8,782.6 L232.8,783.9 L234.3,783.9 L234.3,785.1 L236.5,785.1 L236.5,786.6 L237.8,786.6 L237.8,787.0 L239.1,787.0 L239.1,787.3 L240.9,787.3 L240.9,787.8 L242.0,787.8 L242.0,788.0 L243.8,788.0 L243.8,788.5 L246.0,788.5 L246.0,789.2 L247.6,789.2 L247.6,790.2 L248.9,790.2 L248.9,791.0 L250.4,791.0 L250.4,792.0 L254.0,792.0 L254.0,794.2 L256.5,794.2 L256.5,795.3 L259.0,795.3 L259.0,796.1 L261.5,796.1 L261.5,797.0 L264.4,797.0 L264.4,798.0 L267.6,798.0 L267.6,799.8 L270.5,799.8 L270.5,802.7 L273.3,802.7 L273.3,805.5 L275.7,805.5 L275.7,806.4 L279.3,806.4 L279.3,807.5 L283.7,807.5 L283.7,810.2 L287.5,810.2 L287.5,813.6 L291.2,813.6 L291.2,816.1 L295.2,816.1 L295.2,818.4 L297.8,818.4 L297.8,819.7 L301.9,819.7 L301.9,821.9 L305.3,821.9 L305.3,823.8 L308.9,823.8 L308.9,825.5 L312.8,825.5 L312.8,826.7 L316.2,826.7 L316.2,827.8 L319.1,827.8 L319.1,828.1 L321.9,828.1 L321.9,828.3 L324.6,828.3 L324.6,828.4 L328.2,828.4 L328.2,828.6 L331.3,828.6 L331.3,828.7 L337.8,828.7 L337.8,831.8 L341.4,831.8 L341.4,832.6 L346.7,832.6 L346.7,833.8 L354.4,833.8 L354.4,837.5 L359.2,837.5 L359.2,839.4 L365.5,839.4 L365.5,841.5 L371.4,841.5 L371.4,842.9 L376.4,842.9 L376.4,843.2 L384.7,843.2 L384.7,843.9 L389.7,843.9 L389.7,845.7 L397.0,845.7 L397.0,846.0 L400.0,846.0 L400.0,846.2 L414.7,846.2 L414.7,849.2 L434.6,849.2 L434.6,851.5 L451.4,851.5 L451.4,855.0 L477.1,855.0 L477.1,859.7 L506.8,859.7 L506.8,867.9 L560.0,867.9 L560.0,881.4 L637.8,881.4" fill="none" stroke="#44517f" stroke-width="1.3" stroke-linejoin="round"/>
<path d="M132.3,742.7v-4.9M142.3,752.5v-4.9M147.2,755.5v-4.9M152.9,761.1v-4.9M162.4,767.0v-4.9M165.5,771.7v-4.9M166.8,774.1v-4.9M169.9,780.7v-4.9M171.1,780.7v-4.9M172.5,784.4v-4.9M177.8,789.2v-4.9M179.6,791.1v-4.9M183.1,792.4v-4.9M184.8,793.2v-4.9M186.9,793.6v-4.9M192.2,799.5v-4.9M191.7,799.5v-4.9M192.8,799.5v-4.9M193.8,804.7v-4.9M194.9,807.1v-4.9M198.7,807.8v-4.9M201.0,808.6v-4.9M203.4,809.0v-4.9M205.7,810.7v-4.9M208.1,812.6v-4.9M215.5,819.2v-4.9M219.3,820.4v-4.9M220.9,821.2v-4.9M225.6,823.7v-4.9M230.3,826.3v-4.9M231.4,827.2v-4.9M237.3,831.0v-4.9M238.4,831.0v-4.9M240.8,832.2v-4.9M242.6,833.2v-4.9M244.5,833.4v-4.9M258.3,838.7v-4.9M260.2,838.7v-4.9M261.8,838.8v-4.9M264.1,838.9v-4.9M266.0,838.9v-4.9M267.6,839.0v-4.9M279.3,844.2v-4.9M291.0,855.4v-4.9M302.7,860.3v-4.9M305.0,860.3v-4.9M309.0,864.7v-4.9M312.0,864.7v-4.9M316.7,865.0v-4.9M331.2,869.5v-4.9M333.1,870.4v-4.9M337.8,870.4v-4.9M340.6,872.2v-4.9M360.7,880.4v-4.9M371.6,880.5v-4.9M389.6,883.5v-4.9M390.6,883.5v-4.9M407.0,883.5v-4.9M409.8,883.5v-4.9M422.9,887.7v-4.9M432.0,887.7v-4.9M437.9,887.7v-4.9M450.7,887.7v-4.9M471.3,902.6v-4.9" fill="none" stroke="#000" stroke-width="1.1"/>
<path d="M116.5,725.5v-4.9M119.1,726.5v-4.9M120.0,727.3v-4.9M122.6,729.0v-4.9M123.5,729.0v-4.9M127.4,729.6v-4.9M133.1,730.1v-4.9M142.8,734.9v-4.9M143.7,734.9v-4.9M147.2,736.6v-4.9M148.9,738.5v-4.9M150.7,739.7v-4.9M155.9,744.4v-4.9M156.8,745.2v-4.9M159.4,746.2v-4.9M161.2,747.0v-4.9M162.4,747.7v-4.9M166.1,749.8v-4.9M169.9,751.0v-4.9M171.1,751.6v-4.9M172.5,752.3v-4.9M174.0,753.2v-4.9M176.9,754.1v-4.9M181.7,757.8v-4.9M183.9,760.2v-4.9M184.8,760.5v-4.9M185.7,760.5v-4.9M186.6,760.5v-4.9M188.3,761.0v-4.9M189.2,761.4v-4.9M190.1,761.4v-4.9M191.8,761.9v-4.9M192.7,761.9v-4.9M193.6,762.3v-4.9M197.1,764.0v-4.9M197.9,764.6v-4.9M198.8,764.6v-4.9M199.7,765.6v-4.9M200.6,765.6v-4.9M201.4,766.6v-4.9M202.3,767.2v-4.9M205.8,769.1v-4.9M206.7,769.1v-4.9M207.6,770.1v-4.9M208.5,770.1v-4.9M209.3,771.2v-4.9M210.2,771.2v-4.9M211.1,772.4v-4.9M212.0,772.4v-4.9M216.3,777.4v-4.9M219.0,778.9v-4.9M220.7,779.0v-4.9M222.5,779.1v-4.9M225.1,779.3v-4.9M230.3,782.0v-4.9M232.1,783.0v-4.9M233.8,784.3v-4.9M238.4,787.4v-4.9M239.5,787.7v-4.9M240.5,787.7v-4.9M241.6,788.2v-4.9M242.6,788.4v-4.9M243.7,788.4v-4.9M244.7,788.9v-4.9M248.2,790.6v-4.9M250.1,791.4v-4.9M253.6,792.4v-4.9M255.3,794.6v-4.9M257.6,795.7v-4.9M261.8,797.4v-4.9M262.8,797.4v-4.9M263.9,797.4v-4.9M264.9,798.4v-4.9M266.0,798.4v-4.9M267.1,798.4v-4.9M268.1,800.2v-4.9M269.2,800.2v-4.9M272.3,803.1v-4.9M277.0,806.8v-4.9M282.8,807.9v-4.9M284.7,810.6v-4.9M287.5,810.6v-4.9M292.2,816.5v-4.9M294.0,816.5v-4.9M295.7,818.8v-4.9M299.2,820.1v-4.9M301.5,820.1v-4.9M310.4,825.9v-4.9M319.0,828.2v-4.9M320.7,828.5v-4.9M322.5,828.7v-4.9M324.4,828.7v-4.9M328.4,829.0v-4.9M334.3,829.1v-4.9M335.3,829.1v-4.9M336.4,829.1v-4.9M347.1,834.2v-4.9M352.9,834.2v-4.9M355.3,837.9v-4.9M358.8,837.9v-4.9M359.8,839.8v-4.9M360.9,839.8v-4.9M364.6,839.8v-4.9M370.5,841.9v-4.9M377.0,843.6v-4.9M378.6,843.6v-4.9M384.5,843.6v-4.9M396.6,846.1v-4.9M398.0,846.4v-4.9M399.7,846.4v-4.9M401.2,846.6v-4.9M406.3,846.6v-4.9M407.0,846.6v-4.9M412.9,846.6v-4.9M421.0,849.6v-4.9M424.5,849.6v-4.9M426.2,849.6v-4.9M428.0,849.6v-4.9M430.4,849.6v-4.9M432.2,849.6v-4.9M434.6,849.6v-4.9M436.2,851.9v-4.9M445.6,851.9v-4.9M460.3,855.4v-4.9M464.3,855.4v-4.9M471.3,855.4v-4.9M472.9,855.4v-4.9M474.3,855.4v-4.9M475.9,855.4v-4.9M492.8,860.1v-4.9M502.8,860.1v-4.9M526.4,868.3v-4.9M537.9,868.3v-4.9M543.9,868.3v-4.9M551.9,868.3v-4.9M563.6,881.8v-4.9M597.4,881.8v-4.9M637.9,881.8v-4.9" fill="none" stroke="#000" stroke-width="1.1"/>
</g>
</svg>
</body>
</html>
